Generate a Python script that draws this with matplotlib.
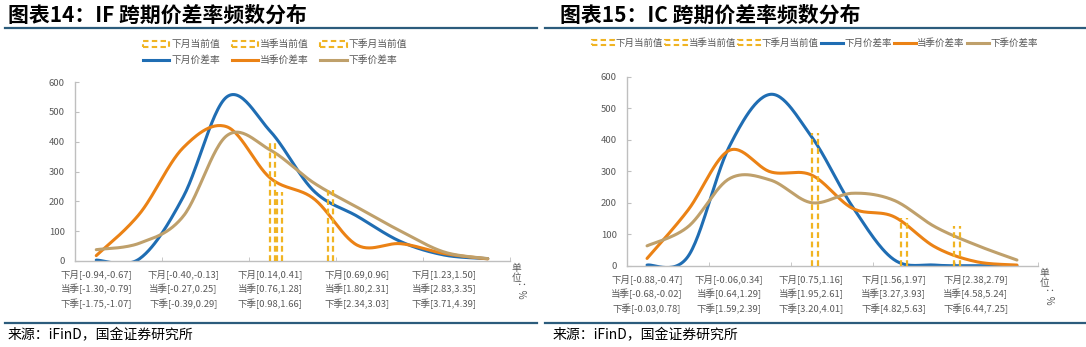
import numpy as np
import matplotlib
matplotlib.use("Agg")
import matplotlib.pyplot as plt
from matplotlib.lines import Line2D
from matplotlib.patches import Patch

plt.rcParams['font.family'] = ['Noto Sans CJK SC', 'DejaVu Sans']
plt.rcParams['axes.unicode_minus'] = False

# ---- data: IF ----
if_month = [(-0.94, -0.67), (-0.40, -0.13), (0.14, 0.41), (0.69, 0.96), (1.23, 1.50)]
if_quarter = [(-1.30, -0.79), (-0.27, 0.25), (0.76, 1.28), (1.80, 2.31), (2.83, 3.35)]
if_next_q = [(-1.75, -1.07), (-0.39, 0.29), (0.98, 1.66), (2.34, 3.03), (3.71, 4.39)]
if_month_freq = [3, 8, 215, 550, 435, 235, 150, 65, 20, 8]
if_quarter_freq = [18, 159, 380, 450, 278, 209, 53, 58, 25, 7]
if_next_q_freq = [38, 60, 150, 420, 372, 262, 180, 100, 30, 8]
# 当前值 (value, bar height)
if_now = [0.29, 1.13, 2.25]
if_now_h = [400, 232, 238]

# ---- data: IC ----
ic_month = [(-0.88, -0.47), (-0.06, 0.34), (0.75, 1.16), (1.56, 1.97), (2.38, 2.79)]
ic_quarter = [(-0.68, -0.02), (0.64, 1.29), (1.95, 2.61), (3.27, 3.93), (4.58, 5.24)]
ic_next_q = [(-0.03, 0.78), (1.59, 2.39), (3.20, 4.01), (4.82, 5.63), (6.44, 7.25)]
ic_month_freq = [2, 30, 378, 544, 410, 187, 20, 2, 0, 0]
ic_quarter_freq = [23, 177, 366, 298, 288, 182, 156, 60, 13, 2]
ic_next_q_freq = [63, 124, 276, 272, 200, 230, 208, 124, 66, 18]
ic_now = [1.00, 3.78, 6.48]
ic_now_h = [421, 150, 126]

BLUE = "#1F6DB3"
ORANGE = "#EB8215"
TAN = "#BFA06B"
GOLD = "#F0B423"
GRAY = "#595959"
AXIS = "#BFBFBF"
RULE = "#2C5C7C"


def smooth(y, n=30):
    # excel-like smoothed line (bezier through points)
    y = np.asarray(y, float)
    x = np.arange(len(y), dtype=float)
    P = np.column_stack([x, y])
    ext = np.vstack([P[0], P, P[-1]])
    out = []
    t = np.linspace(0, 1, n)[:, None]
    for i in range(len(P) - 1):
        p0, p1, p2, p3 = ext[i], ext[i + 1], ext[i + 2], ext[i + 3]
        c1 = p1 + (p2 - p0) / 6
        c2 = p2 - (p3 - p1) / 6
        seg = ((1 - t) ** 3) * p1 + 3 * ((1 - t) ** 2) * t * c1 + 3 * (1 - t) * t ** 2 * c2 + t ** 3 * p2
        out.append(seg)
    out = np.vstack(out)
    return out[:, 0], out[:, 1]


def to_pos(v, ints):
    step = (ints[1][0] - ints[0][0]) / 2
    return (v - ints[0][0]) / step - 0.5


def draw_panel(ax, months, quarters, nexts, freqs, now, now_h, bar_w):
    for v, h, ints in zip(now, now_h, [months, quarters, nexts]):
        p = to_pos(v, ints)
        ax.vlines([p - bar_w / 2, p + bar_w / 2], 0, h, colors=GOLD,
                  linestyles=(0, (2.6, 1.6)), linewidth=1.6, zorder=3)
    for f, c in zip(freqs, [BLUE, ORANGE, TAN]):
        xs, ys = smooth(f)
        ax.plot(xs, ys, color=c, lw=2.2, solid_capstyle='round', zorder=2)
    ax.set_xlim(-0.5, 9.5)
    ax.set_ylim(0, 600)
    ax.set_yticks(np.arange(0, 601, 100))
    labels = [f"下月[{a:.2f},{b:.2f}]\n当季[{c:.2f},{d:.2f}]\n下季[{e:.2f},{g:.2f}]"
              for (a, b), (c, d), (e, g) in zip(months, quarters, nexts)]
    ax.set_xticks(np.arange(0, 10, 2))
    ax.set_xticklabels(labels, fontsize=6.8, color=GRAY, linespacing=1.55)
    ax.set_xticks(np.arange(1.5, 10, 2), minor=True)
    ax.tick_params(axis='x', which='major', length=0, pad=6)
    ax.tick_params(axis='x', which='minor', direction='in', length=3, color=AXIS)
    ax.tick_params(axis='y', direction='in', length=3, color=AXIS, labelsize=6.8,
                   labelcolor=GRAY, pad=7)
    for s in ['top', 'right']:
        ax.spines[s].set_visible(False)
    for s in ['left', 'bottom']:
        ax.spines[s].set_color(AXIS)
        ax.spines[s].set_linewidth(1.0)
    ax.text(1.005, -0.01, "单\n位", transform=ax.transAxes, fontsize=7, color=GRAY,
            ha='left', va='top', linespacing=1.0)
    ax.text(1.012, -0.12, "：%", transform=ax.transAxes, fontsize=7, color=GRAY,
            ha='left', va='top', rotation=-90)


fig = plt.figure(figsize=(10.86, 3.47), dpi=100)

ax1 = fig.add_axes([74.5 / 1086, 1 - 261 / 347, 435 / 1086, 179 / 347])
draw_panel(ax1, if_month, if_quarter, if_next_q,
           [if_month_freq, if_quarter_freq, if_next_q_freq], if_now, if_now_h, 0.115)

ax2 = fig.add_axes([626.5 / 1086, 1 - 265.7 / 347, 411 / 1086, 189 / 347])
draw_panel(ax2, ic_month, ic_quarter, ic_next_q,
           [ic_month_freq, ic_quarter_freq, ic_next_q_freq], ic_now, ic_now_h, 0.135)

names_now = ["下月当前值", "当季当前值", "下季月当前值"]
names_rate = ["下月价差率", "当季价差率", "下季价差率"]
h_now = [Patch(facecolor='none', edgecolor=GOLD, linestyle=(0, (2.6, 1.6)), linewidth=1.5)
         for _ in names_now]
h_rate = [Line2D([], [], color=c, lw=2.2) for c in [BLUE, ORANGE, TAN]]

fig.legend([h_now[0], h_rate[0], h_now[1], h_rate[1], h_now[2], h_rate[2]],
           [names_now[0], names_rate[0], names_now[1], names_rate[1], names_now[2], names_rate[2]],
           ncol=3, loc='center', bbox_to_anchor=(275 / 1086, 1 - 52 / 347),
           columnspacing=1.2, labelspacing=0.55, frameon=False, fontsize=7,
           handlelength=2.7, handleheight=0.5, handletextpad=0.2, labelcolor=GRAY)
fig.legend(h_now + h_rate, names_now + names_rate, ncol=6, loc='center',
           bbox_to_anchor=(815 / 1086, 1 - 43 / 347), columnspacing=0.25,
           frameon=False, fontsize=6.8, handlelength=2.3, handleheight=0.5,
           handletextpad=0.15, labelcolor=GRAY)

# titles, rules, source
fig.text(8 / 1086, 1 - 15 / 347, "图表14：IF 跨期价差率频数分布", fontsize=15,
         fontweight='bold', color='black', ha='left', va='center')
fig.text(560 / 1086, 1 - 15 / 347, "图表15：IC 跨期价差率频数分布", fontsize=15,
         fontweight='bold', color='black', ha='left', va='center')
for x0, x1 in [(5, 537), (545, 1086)]:
    for y in [28, 323]:
        fig.add_artist(Line2D([x0 / 1086, x1 / 1086], [1 - y / 347, 1 - y / 347],
                              color=RULE, lw=1.6, transform=fig.transFigure))
fig.text(8 / 1086, 1 - 335 / 347, "来源：iFinD，国金证券研究所", fontsize=10,
         color='black', ha='left', va='center')
fig.text(553 / 1086, 1 - 335 / 347, "来源：iFinD，国金证券研究所", fontsize=10,
         color='black', ha='left', va='center')

fig.savefig("out.png", dpi=100)
